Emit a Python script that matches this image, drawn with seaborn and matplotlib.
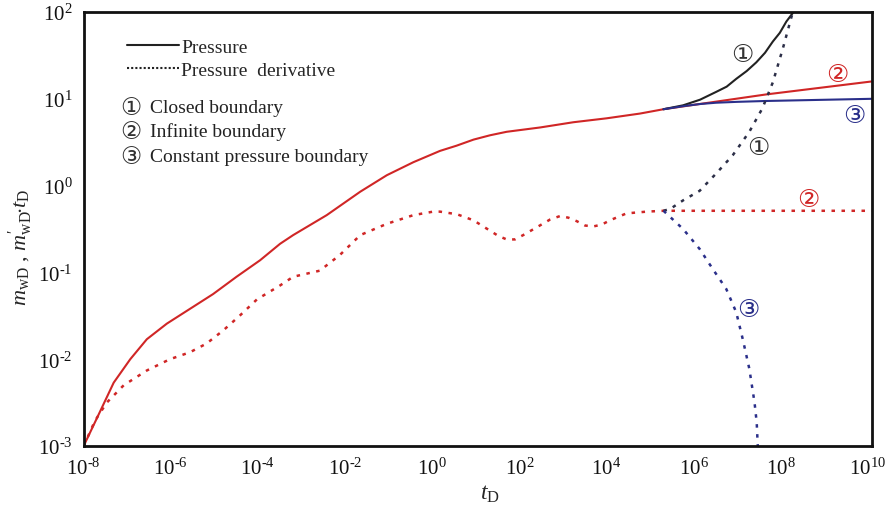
import matplotlib
matplotlib.use("Agg")
import numpy as np
import pandas as pd
import matplotlib.pyplot as plt
import seaborn as sns
from matplotlib.lines import Line2D
from matplotlib.ticker import FixedLocator, FuncFormatter, NullLocator

sns.set_style("white")
plt.rcParams.update({
    "font.family": ["Liberation Serif", "DejaVu Sans"],
    "mathtext.fontset": "custom",
    "mathtext.rm": "Liberation Serif",
    "mathtext.it": "Liberation Serif:italic",
    "mathtext.bf": "Liberation Serif:bold",
    "axes.unicode_minus": False,
})

# ---- axis ticks (powers of ten) ----
x_tick_exp = [-8, -6, -4, -2, 0, 2, 4, 6, 8, 10]
y_tick_exp = [-3, -2, -1, 0, 1, 2]

# ---- curve values, given as log10(t_D) and log10(m) ----
# pressure, infinite boundary (shared early part + late straight line)
inf_p_logt = [-8.00, -7.63, -7.31, -6.93, -6.55, -6.09, -5.56, -5.03, -4.49, -3.95,
              -3.49, -3.19, -2.42, -1.65, -1.04, -0.43, 0.18, 0.56, 0.95, 1.33,
              1.71, 2.48, 3.24, 4.00, 4.77, 5.31, 7.66, 10.09]
inf_p_logm = [-3.00, -2.61, -2.27, -2.00, -1.77, -1.59, -1.42, -1.25, -1.05, -0.86,
              -0.67, -0.57, -0.34, -0.07, 0.12, 0.27, 0.40, 0.46, 0.53, 0.58,
              0.62, 0.67, 0.73, 0.775, 0.83, 0.88, 1.05, 1.20]

# pressure, closed boundary
closed_p_logt = [5.31, 5.76, 6.15, 6.52, 6.76, 6.98, 7.22, 7.44, 7.64, 7.82, 7.98, 8.13, 8.28]
closed_p_logm = [0.88, 0.925, 0.99, 1.08, 1.14, 1.23, 1.32, 1.42, 1.53, 1.66, 1.76, 1.89, 1.99]

# pressure, constant pressure boundary
const_p_logt = [5.31, 5.76, 6.15, 6.52, 7.00, 7.66, 10.09]
const_p_logm = [0.88, 0.915, 0.94, 0.955, 0.965, 0.975, 1.00]

# pressure derivative, infinite boundary
inf_d_logt = [-8.00, -7.74, -7.47, -7.08, -6.55, -6.02, -5.56, -5.18, -4.80, -4.42,
              -4.02, -3.49, -3.19, -2.58, -2.12, -1.65, -1.04, -0.43, 0.02, 0.18,
              0.57, 0.95, 1.33, 1.52, 1.71, 1.90, 2.09, 2.47, 2.71, 2.94,
              3.13, 3.32, 3.51, 3.70, 3.89, 4.08, 4.46, 4.92, 5.31, 10.09]
inf_d_logm = [-3.00, -2.71, -2.50, -2.30, -2.13, -2.00, -1.92, -1.82, -1.67, -1.50,
              -1.31, -1.15, -1.05, -0.98, -0.80, -0.57, -0.44, -0.34, -0.30, -0.30,
              -0.33, -0.40, -0.52, -0.58, -0.62, -0.62, -0.57, -0.46, -0.39, -0.35,
              -0.37, -0.41, -0.46, -0.47, -0.45, -0.40, -0.32, -0.30, -0.29, -0.29]

# pressure derivative, closed boundary
closed_d_logt = [5.31, 5.46, 5.76, 6.14, 6.52, 6.90, 7.28, 7.58, 7.82, 8.05, 8.24, 8.28]
closed_d_logm = [-0.29, -0.27, -0.17, -0.06, 0.14, 0.35, 0.62, 0.89, 1.19, 1.58, 1.93, 2.00]

# pressure derivative, constant pressure boundary
const_d_logt = [5.31, 5.76, 6.14, 6.44, 6.75, 6.98, 7.13, 7.28, 7.40, 7.45, 7.47, 7.475]
const_d_logm = [-0.29, -0.50, -0.73, -0.96, -1.19, -1.46, -1.77, -2.11, -2.50, -2.73, -2.96, -3.00]

RED = "#d02626"
BLACK = "#222222"
NAVY = "#2a2f8a"
DOTS = (0, (1.4, 2.6))


def frame(logt, logm):
    return pd.DataFrame({"t": np.power(10.0, logt), "m": np.power(10.0, logm)})


def power_label(v, pos):
    e = int(round(np.log10(v)))
    s = str(e).replace("-", "\u2010")
    return r"$\mathrm{10}^{\mathrm{" + s + "}}$"


fig = plt.figure(figsize=(8.86, 5.10), dpi=100)
ax = fig.add_axes([0.0944, 0.1235, 0.8895, 0.851])

common = dict(x="t", y="m", sort=False, estimator=None, ax=ax, legend=False)
sns.lineplot(data=frame(inf_p_logt, inf_p_logm), color=RED, linewidth=1.5, **common)
sns.lineplot(data=frame(closed_p_logt, closed_p_logm), color=BLACK, linewidth=1.5, **common)
sns.lineplot(data=frame(const_p_logt, const_p_logm), color=NAVY, linewidth=1.5, **common)
sns.lineplot(data=frame(inf_d_logt, inf_d_logm), color=RED, linewidth=1.8,
             linestyle=DOTS, **common)
sns.lineplot(data=frame(closed_d_logt, closed_d_logm), color="#2c2f48", linewidth=1.8,
             linestyle=DOTS, **common)
sns.lineplot(data=frame(const_d_logt, const_d_logm), color=NAVY, linewidth=1.8,
             linestyle=DOTS, **common)

ax.set_xscale("log")
ax.set_yscale("log")
ax.set_xlim(1e-8, 10 ** 10.09)
ax.set_ylim(1e-3, 1e2)

ax.xaxis.set_major_locator(FixedLocator([10.0 ** e for e in x_tick_exp]))
ax.yaxis.set_major_locator(FixedLocator([10.0 ** e for e in y_tick_exp]))
ax.xaxis.set_minor_locator(NullLocator())
ax.yaxis.set_minor_locator(NullLocator())
ax.xaxis.set_major_formatter(FuncFormatter(power_label))
ax.yaxis.set_major_formatter(FuncFormatter(power_label))

for side in ["left", "right", "top", "bottom"]:
    ax.spines[side].set_visible(True)
    ax.spines[side].set_linewidth(2.0)
    ax.spines[side].set_color("#111111")
ax.tick_params(axis="both", which="major", direction="in", length=6, width=2.0,
               labelsize=15, colors="#111111", top=False, right=False)
ax.tick_params(axis="x", pad=8)
ax.tick_params(axis="y", pad=8)

ax.set_xlabel(r"$t_{\rm D}$", fontsize=17)
ax.xaxis.set_label_coords(0.515, -0.085)
ax.set_ylabel(r"$m_{\rm wD}$ , $m_{\rm wD}^{\prime}\!\mathbf{\cdot} t_{\rm D}$",
              fontsize=16)
ax.yaxis.set_label_coords(-0.062, 0.46)

# legend for the two line types
handles = [Line2D([], [], color=BLACK, linewidth=1.5),
           Line2D([], [], color=BLACK, linewidth=1.5, linestyle=(0, (1, 1)))]
ax.legend(handles, ["Pressure", "Pressure  derivative"], loc="upper left",
          bbox_to_anchor=(0.055, 0.94), frameon=False, fontsize=14,
          handlelength=2.7, handletextpad=0.1, labelspacing=0.3,
          borderpad=0, borderaxespad=0)

# boundary type key
key_rows = [("\u2460", "Closed boundary"),
            ("\u2461", "Infinite boundary"),
            ("\u2462", "Constant pressure boundary")]
for i, (num, name) in enumerate(key_rows):
    y = 0.770 - i * 0.0565
    ax.text(0.060, y + 0.012, num, transform=ax.transAxes, fontsize=17,
            va="center", ha="center", color="#333333", family=["DejaVu Sans"])
    ax.text(0.084, y, name, transform=ax.transAxes,
            fontsize=14, va="baseline", ha="left", color="#222222")

# curve markers
marks = [(7.13, 1.52, "\u2460", "#333333"),
         (9.29, 1.29, "\u2461", RED),
         (9.68, 0.81, "\u2462", NAVY),
         (7.48, 0.44, "\u2460", "#333333"),
         (8.63, -0.15, "\u2461", RED),
         (7.25, -1.42, "\u2462", NAVY)]
for lx, ly, num, col in marks:
    ax.text(10 ** lx, 10 ** ly, num, fontsize=18, color=col, ha="center", va="center",
            family=["DejaVu Sans"])

fig.savefig("out.png", dpi=100, facecolor="white")
